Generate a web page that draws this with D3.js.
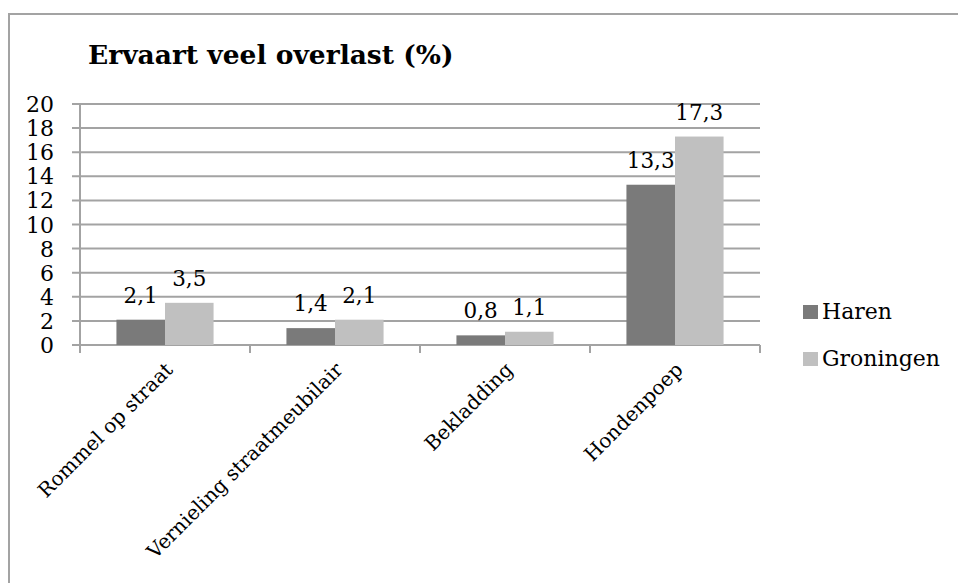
<!DOCTYPE html>
<head>
  <meta charset="utf-8">
  <script src="https://d3js.org/d3.v7.min.js"></script>
  <style>
    body { margin:0; background:#fff; }
    text { font-family: 'DejaVu Serif', serif; fill:#000; }
  </style>
</head>
<body>
  <script>
    // data
    var categories = ['Rommel op straat', 'Vernieling straatmeubilair', 'Bekladding', 'Hondenpoep'];
    var series = ['Haren', 'Groningen'];
    var haren = [2.1, 1.4, 0.8, 13.3];
    var groningen = [3.5, 2.1, 1.1, 17.3];
    var yTicks = [0, 2, 4, 6, 8, 10, 12, 14, 16, 18, 20];
    var colors = ['#7a7a7a', '#c0c0c0'];

    var width = 958, height = 583;

    var svg = d3.select('body').append('svg')
      .attr('width', width)
      .attr('height', height);

    // outer chart frame (runs off the right and bottom)
    svg.append('rect')
      .attr('x', 9).attr('y', 14)
      .attr('width', 980).attr('height', 600)
      .style('fill', 'none')
      .style('stroke', '#a3a3a3')
      .style('stroke-width', 2);

    svg.append('text')
      .attr('x', 88).attr('y', 64)
      .style('font-weight', 'bold')
      .style('font-size', '26.5px')
      .text('Ervaart veel overlast (%)');

    var x = d3.scaleBand().domain(categories).range([80, 760]).padding(0);
    var xs = d3.scaleBand().domain(series).range([0, x.bandwidth()])
      .paddingInner(0).paddingOuter(0.75);
    var y = d3.scaleLinear().domain([0, 20]).range([345, 104]);

    // gridlines
    svg.append('g').selectAll('line')
      .data(yTicks)
      .enter().append('line')
      .attr('x1', 72).attr('x2', 760)
      .attr('y1', d => y(d)).attr('y2', d => y(d))
      .style('stroke', '#a3a3a3')
      .style('stroke-width', 2);

    // y axis line
    svg.append('line')
      .attr('x1', 80).attr('x2', 80)
      .attr('y1', y(20)).attr('y2', 353)
      .style('stroke', '#a3a3a3')
      .style('stroke-width', 2);

    // category ticks
    var bounds = categories.map(c => x(c)).concat([760]);
    svg.append('g').selectAll('line')
      .data(bounds)
      .enter().append('line')
      .attr('x1', d => d).attr('x2', d => d)
      .attr('y1', 345).attr('y2', 353)
      .style('stroke', '#a3a3a3')
      .style('stroke-width', 2);

    svg.append('g').selectAll('text')
      .data(yTicks)
      .enter().append('text')
      .attr('x', 54)
      .attr('y', d => y(d) + 8)
      .style('text-anchor', 'end')
      .style('font-size', '22px')
      .text(d => d);

    var rows = [];
    categories.forEach(function(c, i) {
      rows.push({cat: c, s: series[0], v: haren[i]});
      rows.push({cat: c, s: series[1], v: groningen[i]});
    });

    svg.append('g').selectAll('rect')
      .data(rows)
      .enter().append('rect')
      .attr('x', d => x(d.cat) + xs(d.s))
      .attr('y', d => y(d.v))
      .attr('width', xs.bandwidth())
      .attr('height', d => y(0) - y(d.v))
      .style('fill', d => colors[series.indexOf(d.s)]);

    svg.append('g').selectAll('text')
      .data(rows)
      .enter().append('text')
      .attr('x', d => x(d.cat) + xs(d.s) + xs.bandwidth() / 2)
      .attr('y', d => y(d.v) - 17)
      .style('text-anchor', 'middle')
      .style('font-size', '21.5px')
      .text(d => String(d.v).replace('.', ','));

    // rotated category labels
    svg.append('g').selectAll('text')
      .data(categories)
      .enter().append('text')
      .attr('transform', d => 'translate(' + (x(d) + x.bandwidth() / 2 + 9) + ',371) rotate(-45)')
      .style('text-anchor', 'end')
      .style('font-size', '20px')
      .text(d => d);

    // legend
    var leg = svg.append('g').selectAll('g')
      .data(series)
      .enter().append('g')
      .attr('transform', (d, i) => 'translate(803,' + (305 + i * 47) + ')');
    leg.append('rect')
      .attr('width', 15).attr('height', 14)
      .style('fill', (d, i) => colors[i]);
    leg.append('text')
      .attr('x', 19).attr('y', 14)
      .style('font-size', '22px')
      .text(d => d);
  </script>
</body>
